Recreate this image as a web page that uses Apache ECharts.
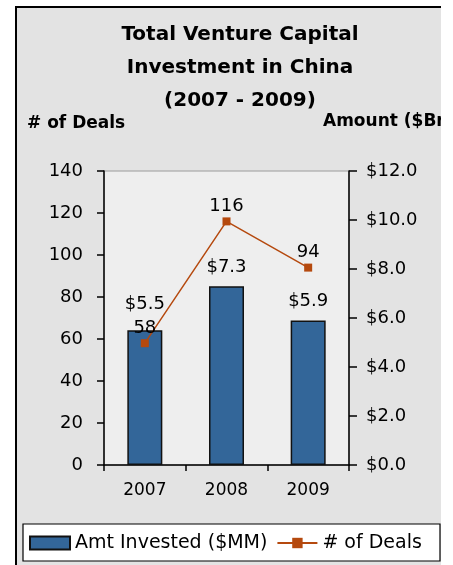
<!DOCTYPE html>
<html><head><meta charset="utf-8">
<script src="https://cdn.jsdelivr.net/npm/echarts@6/dist/echarts.min.js"></script>
<style>html,body{margin:0;padding:0;background:#fff;}#c{width:441px;height:565px;}</style>
</head><body><div id="c"></div>
<script>
const years = ['2007', '2008', '2009'];
const amountInvested = [5.5, 7.3, 5.9];   // $Bn (right axis)
const numDeals = [58, 116, 94];          // left axis
const leftTicks = [0, 140, 20];          // min, max, interval
const rightTicks = [0, 12, 2];

const FONT = 'DejaVu Sans';
const chart = echarts.init(document.getElementById('c'), null, {renderer: 'canvas'});

const barData = amountInvested.map((v, i) => ({
  value: v,
  label: {distance: i === 0 ? 17 : 10}
}));

chart.setOption({
  animation: false,
  textStyle: {fontFamily: FONT},
  graphic: [
    {type: 'rect', z: -10, shape: {x: 16, y: 7, width: 600, height: 700},
     style: {fill: '#e3e3e3', stroke: '#000', lineWidth: 2}},
    {type: 'text', left: 27, top: 115, style: {text: '# of Deals', font: 'bold 17px "DejaVu Sans"', fill: '#000'}},
    {type: 'text', left: 323, top: 113, style: {text: 'Amount ($Bn)', font: 'bold 17px "DejaVu Sans"', fill: '#000'}},
    {type: 'rect', z: 5, shape: {x: 23, y: 524, width: 417, height: 37},
     style: {fill: '#fff', stroke: '#000', lineWidth: 1.2}}
  ],
  title: {
    text: 'Total Venture Capital\nInvestment in China\n(2007 - 2009)',
    left: 240, top: 18, textAlign: 'center', padding: 0,
    textStyle: {fontFamily: FONT, fontSize: 20, fontWeight: 'bold', lineHeight: 33, color: '#000'}
  },
  legend: {
    left: 29, top: 533, z: 10, padding: 0,
    itemWidth: 40, itemHeight: 13, itemGap: 9,
    textStyle: {fontFamily: FONT, fontSize: 19, color: '#000', lineHeight: 20},
    data: [{name: 'Amt Invested ($MM)', icon: 'rect'}, {name: '# of Deals'}]
  },
  grid: {left: 104, right: 92, top: 171, bottom: 100, show: true,
         backgroundColor: '#eeeeee', borderColor: '#9a9a9a', borderWidth: 1},
  xAxis: {
    type: 'category', data: years, boundaryGap: true,
    axisLine: {lineStyle: {color: '#000', width: 1.5}},
    axisTick: {show: true, length: 6, inside: false, lineStyle: {color: '#000', width: 1.5}},
    axisLabel: {fontFamily: FONT, fontSize: 17, color: '#000', margin: 17}
  },
  yAxis: [
    {type: 'value', position: 'left', min: leftTicks[0], max: leftTicks[1], interval: leftTicks[2],
     axisLine: {show: true, lineStyle: {color: '#000', width: 1.5}},
     axisTick: {show: true, length: 7, lineStyle: {color: '#000', width: 1.5}},
     splitLine: {show: false},
     axisLabel: {fontFamily: FONT, fontSize: 18, color: '#000', margin: 21}},
    {type: 'value', position: 'right', min: rightTicks[0], max: rightTicks[1], interval: rightTicks[2],
     axisLine: {show: true, lineStyle: {color: '#000', width: 1.5}},
     axisTick: {show: true, length: 8, lineStyle: {color: '#000', width: 1.5}},
     splitLine: {show: false},
     axisLabel: {fontFamily: FONT, fontSize: 18, color: '#000', margin: 17,
                 formatter: v => '$' + v.toFixed(1)}}
  ],
  series: [
    {name: 'Amt Invested ($MM)', type: 'bar', yAxisIndex: 1, barWidth: 35,
     data: barData,
     itemStyle: {color: '#336699', borderColor: '#111', borderWidth: 1.5},
     label: {show: true, position: 'top', fontFamily: FONT, fontSize: 18, color: '#000',
             formatter: p => '$' + p.value.toFixed(1)}},
    {name: '# of Deals', type: 'line', yAxisIndex: 0, data: numDeals,
     symbol: 'rect', symbolSize: 8,
     lineStyle: {color: '#b5490e', width: 1.5},
     itemStyle: {color: '#b5490e'},
     label: {show: true, position: 'top', distance: 2, fontFamily: FONT, fontSize: 18, color: '#000'}}
  ]
});
</script></body></html>
